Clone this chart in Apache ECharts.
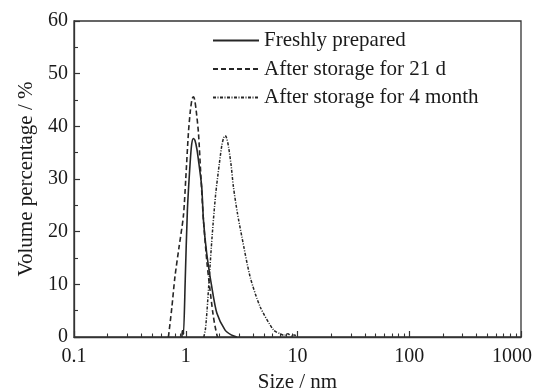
<!DOCTYPE html>
<html>
<head>
<meta charset="utf-8">
<script src="https://cdn.jsdelivr.net/npm/echarts@6/dist/echarts.min.js"></script>
<style>html,body{margin:0;padding:0;background:#fff}#c{width:539px;height:390px}</style>
</head>
<body>
<div id="c"></div>
<script>
// ---- data ----
const seriesNames = ['Freshly prepared', 'After storage for 21 d', 'After storage for 4 month'];

const freshSize = [0.925, 0.93, 0.95, 0.955, 0.99, 1.034, 1.094, 1.13, 1.17, 1.21, 1.26, 1.31, 1.39, 1.44, 1.54, 1.71, 1.90, 2.25, 2.55, 2.86];
const freshVol  = [0, 1.2, 1.2, 0.5, 11, 24, 33, 36.6, 37.7, 37.3, 35.6, 33, 28.5, 22.2, 15.9, 9.5, 4.5, 1.3, 0.4, 0];

const d21Size = [0.70, 0.75, 0.80, 0.87, 0.953, 1.0, 1.056, 1.10, 1.14, 1.17, 1.20, 1.24, 1.30, 1.37, 1.44, 1.55, 1.65, 1.75, 1.83, 1.92];
const d21Vol  = [0, 5.5, 11.4, 17, 23, 30, 38.7, 43, 45.2, 45.6, 45.1, 43, 38.7, 30, 22.2, 14, 8.9, 4.5, 2, 0];

const m4Size = [1.45, 1.50, 1.55, 1.62, 1.72, 1.85, 2.0, 2.1, 2.18, 2.25, 2.32, 2.42, 2.55, 2.67, 2.9, 3.18, 3.77, 4.63, 6.1, 7.0, 7.6, 8.2, 8.8, 9.4, 10];
const m4Vol  = [0, 1.5, 5, 11, 19, 27, 33, 36.3, 37.8, 38.2, 37.8, 36, 32.5, 28.5, 23.5, 19, 11.4, 5.75, 1.33, 0.6, 0.3, 0.6, 0.2, 0.4, 0];

const xMajorTicks = [0.1, 1, 10, 100, 1000];
const yTicks = [0, 10, 20, 30, 40, 50, 60];

// minor log ticks (2..9 in each decade)
const xMinorTicks = [];
for (let d = 0; d < xMajorTicks.length - 1; d++) {
  for (let k = 2; k <= 9; k++) xMinorTicks.push(+(xMajorTicks[d] * k).toPrecision(3));
}

const zip = (a, b) => a.map((v, i) => [v, b[i]]);
const ink = '#262626';
const font = 'Liberation Serif';

const chart = echarts.init(document.getElementById('c'), null, {renderer: 'canvas'});
chart.setOption({
  animation: false,
  backgroundColor: '#fff',
  grid: {left: 74, right: 18, top: 21, bottom: 53, outerBoundsMode: 'none', containLabel: false,
    show: true, borderColor: '#333', borderWidth: 1.3, backgroundColor: 'transparent'},
  legend: {
    orient: 'vertical', left: 212, top: 30, padding: 0, itemWidth: 46, itemHeight: 14, itemGap: 7.5,
    itemStyle: {opacity: 0},
    textStyle: {fontFamily: font, fontSize: 21, color: '#1a1a1a'},
    data: seriesNames
  },
  xAxis: [{
    type: 'log', logBase: 10, min: 0.1, max: 1000,
    name: 'Size / nm', nameLocation: 'middle', nameGap: 32,
    nameTextStyle: {fontFamily: font, fontSize: 21, color: '#1a1a1a'},
    axisLine: {show: true, lineStyle: {color: '#333', width: 1.3}},
    axisTick: {show: true, inside: true, length: 6, customValues: xMajorTicks, lineStyle: {color: '#333', width: 1.2}},
    axisLabel: {
      customValues: xMajorTicks, margin: 10, fontFamily: font, fontSize: 20, color: '#1a1a1a',
      formatter: v => (v >= 1000 ? '{r|' + v + '}' : String(v)),
      rich: {r: {fontFamily: font, fontSize: 20, color: '#1a1a1a', padding: [0, 18, 0, 0]}}
    },
    splitLine: {show: false}
  }, {
    type: 'log', logBase: 10, min: 0.1, max: 1000, gridIndex: 0, position: 'bottom',
    axisLine: {show: false},
    axisTick: {show: true, inside: true, length: 3.5, customValues: xMinorTicks, lineStyle: {color: '#333', width: 1.1}},
    axisLabel: {show: false},
    splitLine: {show: false}
  }],
  yAxis: {
    type: 'value', min: 0, max: 60, interval: 10,
    name: 'Volume percentage / %', nameLocation: 'middle', nameGap: 37, nameRotate: 90,
    nameTextStyle: {fontFamily: font, fontSize: 21, color: '#1a1a1a'},
    axisLine: {show: true, lineStyle: {color: '#333', width: 1.3}},
    axisTick: {show: true, inside: true, length: 6, lineStyle: {color: '#333', width: 1.2}},
    minorTick: {show: true, splitNumber: 2, length: 4, lineStyle: {color: '#333', width: 1.1}},
    axisLabel: {margin: 6, fontFamily: font, fontSize: 20, color: '#1a1a1a',
      formatter: v => (yTicks.indexOf(v) >= 0 ? String(v) : '')},
    splitLine: {show: false}
  },
  series: [{
    name: seriesNames[0], type: 'line', xAxisIndex: 0, data: zip(freshSize, freshVol),
    symbol: 'none', smooth: 0.25, lineStyle: {color: ink, width: 1.6, type: 'solid'}, itemStyle: {color: ink}
  }, {
    name: seriesNames[1], type: 'line', xAxisIndex: 0, data: zip(d21Size, d21Vol),
    symbol: 'none', smooth: 0.25, lineStyle: {color: ink, width: 1.6, type: [5, 3]}, itemStyle: {color: ink}
  }, {
    name: seriesNames[2], type: 'line', xAxisIndex: 0, data: zip(m4Size, m4Vol),
    symbol: 'none', smooth: 0.25, lineStyle: {color: ink, width: 1.5, type: [3, 1.5, 1, 1.5]}, itemStyle: {color: ink}
  }]
});
</script>
</body>
</html>
